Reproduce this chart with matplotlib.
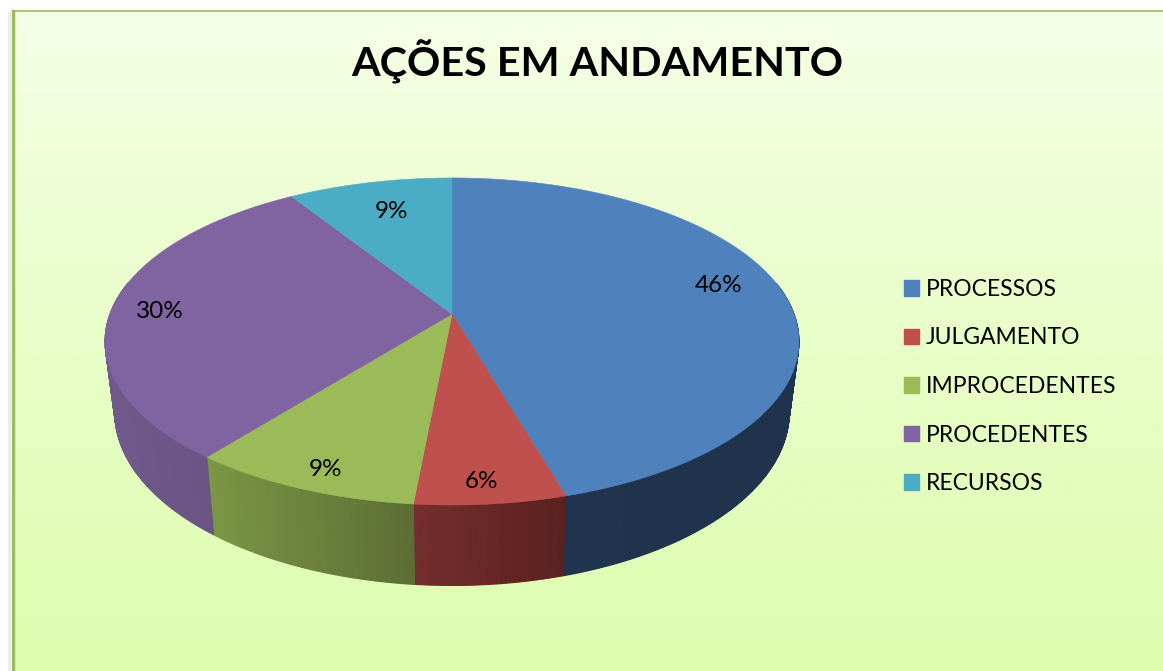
import numpy as np
import matplotlib
matplotlib.use("Agg")
import matplotlib.pyplot as plt
from matplotlib.colors import LinearSegmentedColormap, to_rgb
from matplotlib.patches import Patch, Polygon

plt.rcParams['font.family'] = ['Lato', 'DejaVu Sans']

# chart data
labels = ['PROCESSOS', 'JULGAMENTO', 'IMPROCEDENTES', 'PROCEDENTES', 'RECURSOS']
values = [45.5, 6.0, 9.2, 30.3, 9.0]
pct_labels = ['46%', '6%', '9%', '30%', '9%']
colors = ['#4f81bd', '#c0504d', '#9bbb59', '#8064a2', '#4bacc6']
# side wall colour, left end and right end of the visible part
side_left = ['#20344e', '#742e2d', '#7b9645', '#705a8c', '#2d6d80']
side_right = ['#1f334c', '#5a211f', '#5c6e34', '#64507e', '#2d6d80']
pct_xy = [(719, 285), (481, 482), (326, 470), (160, 312), (391, 211)]

W, H = 1163, 671
cx, cy = 452, 314
a, b, k = 342, 158.9, 0.168   # perspective of the disc
depth = 69
xshrink, ystretch = 0.972, 1.06


def project(theta, bottom=False):
    # theta clockwise from the top of the pie, in radians
    u, v = np.sin(theta), -np.cos(theta)
    d = 1 - k * v
    x, y = a * u / d, b * v / d
    if bottom:
        return cx + x * xshrink, cy + y * ystretch + depth
    return cx + x, cy + y


fig = plt.figure(figsize=(W / 100, H / 100), dpi=100)
ax = fig.add_axes([0, 0, 1, 1])
ax.set_xlim(0, W)
ax.set_ylim(H, 0)
ax.axis('off')

# background gradient and frame
cmap = LinearSegmentedColormap.from_list('bg', ['#f5ffe6', '#e9fdc8', '#ddfdaf'])
ax.imshow(np.linspace(0, 1, 256).reshape(-1, 1), cmap=cmap, aspect='auto',
          extent=[13, W, H, 11], zorder=0)
ax.plot([13, 13], [11, H], color='#9bbb59', lw=2.5, zorder=1)
ax.plot([13, W], [11, 11], color='#9bbb59', lw=1.2, zorder=1)
ax.plot([9.5, 9.5], [14, H], color='#ececec', lw=3, zorder=1)

edges = np.cumsum([0] + values) / sum(values) * 2 * np.pi

# side walls first, the top covers whatever is behind
for i in range(len(values)):
    t0, t1 = edges[i], edges[i + 1]
    ts = np.linspace(t0, t1, max(int((t1 - t0) * 120), 2))
    xs = project(ts)[0]
    c0, c1 = np.array(to_rgb(side_left[i])), np.array(to_rgb(side_right[i]))
    for j in range(len(ts) - 1):
        if -np.cos(ts[j]) < -0.2:
            continue
        f = (xs[j] - xs.min()) / max(xs.max() - xs.min(), 1)
        col = c0 + (c1 - c0) * f
        x0, y0 = project(ts[j])
        x1, y1 = project(ts[j + 1])
        x2, y2 = project(ts[j + 1], True)
        x3, y3 = project(ts[j], True)
        ax.add_patch(Polygon([(x0, y0), (x1, y1), (x2, y2), (x3, y3)],
                             fc=col, ec=col, lw=0.8, zorder=2))

# top of the pie
for i in range(len(values)):
    ts = np.linspace(edges[i], edges[i + 1], 200)
    xs, ys = project(ts)
    pts = [(cx, cy)] + list(zip(xs, ys))
    ax.add_patch(Polygon(pts, fc=colors[i], ec=colors[i], lw=0.4, zorder=3))

for (x, y), p in zip(pct_xy, pct_labels):
    ax.text(x, y, p, fontsize=17.5, ha='center', va='center', color='black', zorder=4)

ax.text(597, 62, 'AÇÕES EM ANDAMENTO', fontsize=29.7, fontweight='bold',
        ha='center', va='center', color='black', zorder=4)

handles = [Patch(fc=c, ec=c) for c in colors]
ax.legend(handles, labels, loc='center left', bbox_to_anchor=(883 / W, 1 - 386.5 / H),
          frameon=False, fontsize=16.5, handlelength=0.65, handleheight=0.65,
          handletextpad=0.3, labelspacing=1.2, labelcolor='black')

plt.savefig('out.png', dpi=100)
